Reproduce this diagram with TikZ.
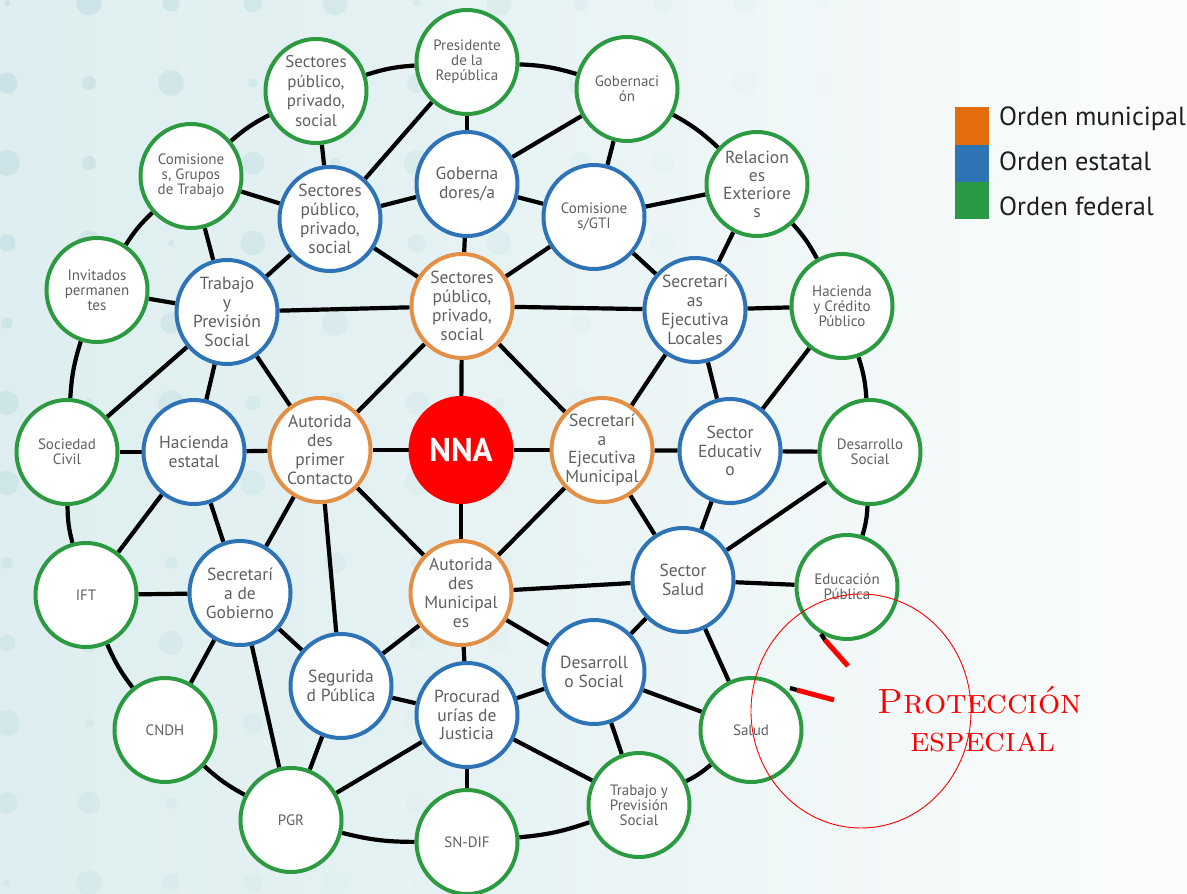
\documentclass[tikz,border=0pt]{standalone}
\usepackage{fontspec}
\newfontfamily\ptsans{PT Sans}
\usetikzlibrary{shapes.geometric}
\definecolor{cGreen}{HTML}{2C9A40}
\definecolor{cBlue}{HTML}{2E73B5}
\definecolor{cOrange}{HTML}{E38F45}
\definecolor{lgOrange}{HTML}{E46C0A}
\definecolor{lgBlue}{HTML}{2E75B5}
\definecolor{lgGreen}{HTML}{2B9A44}
\definecolor{txt}{HTML}{606060}
\definecolor{nnaRed}{HTML}{FF0000}
\definecolor{bgL}{HTML}{D4E9EB}
\definecolor{bgM}{HTML}{E6F2F3}
\definecolor{bgR}{HTML}{FAFCFC}
\definecolor{dotc}{HTML}{C2DFE2}
\pgfdeclarehorizontalshading{bgshade}{100bp}{color(0bp)=(bgL); color(45bp)=(bgM); color(72bp)=(bgR); color(100bp)=(white)}
\pgfdeclarelayer{back}
\pgfdeclarelayer{edges}
\pgfsetlayers{back,edges,main}
\tikzset{
  circ/.style={ellipse, line width=4pt, fill=white, minimum width=101pt, minimum height=104pt, inner sep=0pt},
  fed/.style={circ, draw=cGreen},
  est/.style={circ, draw=cBlue},
  mun/.style={circ, draw=cOrange},
  tbig/.style={align=center, text=txt, inner sep=0pt, font=\ptsans\fontsize{17.5}{18.8}\selectfont},
  tsml/.style={align=center, text=txt, inner sep=0pt, font=\ptsans\fontsize{15}{15}\selectfont},
  link/.style={line width=4.2pt, draw=black},
  ring/.style={link, bend left=7},
  redmark/.style={line width=5pt, draw=red},
  legtxt/.style={anchor=base west, inner sep=0pt, text=black!88, font=\ptsans\fontsize{26.3}{26.3}\selectfont},
}
\begin{document}
\begin{tikzpicture}[x=1pt,y=-1pt]
\useasboundingbox (0,0) rectangle (1187,894);
\begin{pgfonlayer}{back}
  \shade[shading=bgshade] (0,0) rectangle (1187,894);
  \foreach \i in {0,...,13}{
    \foreach \j in {0,...,11}{
      \pgfmathsetmacro\rr{3+10*abs(sin(\i*73+\j*131))}
      \pgfmathsetmacro\op{max(0,0.7-0.065*\i-0.03*\j)}
      \fill[dotc, fill opacity=\op] (7+82*\i,3+80*\j) circle[radius=\rr];
    }
  }
\end{pgfonlayer}

% federal (outer ring)
\node[fed] (g1) at (316,91) {};
\node[fed] (g2) at (467,62) {};
\node[fed] (g3) at (627,89) {};
\node[fed] (g4) at (757,184) {};
\node[fed] (g5) at (842,306) {};
\node[fed] (g6) at (870,452) {};
\node[fed] (g7) at (847,587) {};
\node[fed] (g8) at (751,730) {};
\node[fed] (g9) at (639,805) {};
\node[fed] (g10) at (467,842) {};
\node[fed] (g11) at (291,820) {};
\node[fed] (g12) at (165,730) {};
\node[fed] (g13) at (86,595) {};
\node[fed] (g14) at (67,452) {};
\node[fed] (g15) at (97,290) {};
\node[fed] (g16) at (191,176) {};
% estatal
\node[est] (b1) at (330,219) {};
\node[est] (b2) at (467,184) {};
\node[est] (b3) at (594,217) {};
\node[est] (b4) at (695,310) {};
\node[est] (b5) at (730,451) {};
\node[est] (b6) at (683,580) {};
\node[est] (b7) at (594,672) {};
\node[est] (b8) at (467,715) {};
\node[est] (b9) at (341,686) {};
\node[est] (b10) at (240,593) {};
\node[est] (b11) at (194,452) {};
\node[est] (b12) at (227,312) {};
% municipal
\node[mun] (o1) at (462,306) {};
\node[mun] (o2) at (602,450) {};
\node[mun] (o3) at (461,593) {};
\node[mun] (o4) at (320,450) {};
% centre
\node[circ, draw=nnaRed, fill=nnaRed] (nna) at (461,450) {};

% texts
\node[tbig, font=\ptsans\fontsize{17}{19.8}\selectfont] (g1t) at (g1) {Sectores\\público,\\privado,\\social};
\node[tsml] (g2t) at (g2) {Presidente\\de la\\República};
\node[tsml] (g3t) at (g3) {Gobernaci\\ón};
\node[tbig, font=\ptsans\fontsize{17.5}{18}\selectfont] (g4t) at (g4) {Relacion\\es\\Exteriore\\s};
\node[tsml] (g5t) at (g5) {Hacienda\\y Crédito\\Público};
\node[tsml] (g6t) at (g6) {Desarrollo\\Social};
\node[tsml] (g7t) at (g7) {Educación\\Pública};
\node[tsml] (g8t) at (g8) {Salud};
\node[tsml] (g9t) at (g9) {Trabajo y\\Previsión\\Social};
\node[tsml] (g10t) at (g10) {SN-DIF};
\node[tsml] (g11t) at (g11) {PGR};
\node[tsml] (g12t) at (g12) {CNDH};
\node[tsml] (g13t) at (g13) {IFT};
\node[tsml] (g14t) at (g14) {Sociedad\\Civil};
\node[tsml] (g15t) at (g15) {Invitados\\permanen\\tes};
\node[tsml] (g16t) at (g16) {Comisione\\s, Grupos\\de Trabajo};
\node[tbig] (b1t) at (b1) {Sectores\\público,\\privado,\\social};
\node[tbig] (b2t) at (b2) {Goberna\\dores/a};
\node[tsml] (b3t) at (b3) {Comisione\\s/GTI};
\node[tbig] (b4t) at (b4) {Secretarí\\as\\Ejecutiva\\Locales};
\node[tbig] (b5t) at (b5) {Sector\\Educativ\\o};
\node[tbig] (b6t) at (b6) {Sector\\Salud};
\node[tbig] (b7t) at (b7) {Desarroll\\o Social};
\node[tbig] (b8t) at (b8) {Procurad\\urías de\\Justicia};
\node[tbig] (b9t) at (b9) {Segurida\\d Pública};
\node[tbig] (b10t) at (b10) {Secretarí\\a de\\Gobierno};
\node[tbig] (b11t) at (b11) {Hacienda\\estatal};
\node[tbig] (b12t) at (b12) {Trabajo\\y\\Previsión\\Social};
\node[tbig] (o1t) at (o1) {Sectores\\público,\\privado,\\social};
\node[tbig] (o2t) at (o2) {Secretarí\\a\\Ejecutiva\\Municipal};
\node[tbig] (o3t) at (o3) {Autorida\\des\\Municipal\\es};
\node[tbig] (o4t) at (o4) {Autorida\\des\\primer\\Contacto};
\node[inner sep=0pt, text=white, font=\ptsans\bfseries\fontsize{33}{33}\selectfont] (nnat) at (nna) {NNA};

\begin{pgfonlayer}{edges}
  % outer ring
  \draw[ring] (g1) to (g2);
  \draw[ring] (g2) to (g3);
  \draw[ring] (g3) to (g4);
  \draw[ring] (g4) to (g5);
  \draw[ring] (g5) to (g6);
  \draw[ring] (g6) to (g7);
  \draw[ring] (g8) to (g9);
  \draw[ring] (g9) to (g10);
  \draw[ring] (g10) to (g11);
  \draw[ring] (g11) to (g12);
  \draw[ring] (g12) to (g13);
  \draw[ring] (g13) to (g14);
  \draw[ring] (g14) to (g15);
  \draw[ring] (g15) to (g16);
  \draw[ring] (g16) to (g1);
  % straight links
  \foreach \a/\b in {g1/b1, g2/b1, g2/b2, g3/b2, g16/b1, g16/b12, b1/b2, b1/b12, b1/o1,
    b2/o1, b2/b3, b3/o1, g15/b12, b12/o1, o1/b4, b12/g14, b12/b11, b12/o4, o1/o4,
    o1/nna, o1/o2, g3/b3, b3/g4, b3/b4, g4/b4, b4/g5, b4/o2, b4/b5, g5/b5,
    nna/o2, nna/o4, nna/o3, b11/o4, g14/b11, o2/b5, b5/g6, b11/g13, b11/b10,
    o4/b10, o4/b9, o4/o3, o2/o3, o3/b6, o3/b7, o3/b9, o3/b8, g13/b10, b10/g12,
    b10/g11, b10/b9, b9/g11, b9/b8, g11/b8, b8/g10, b8/b7, b8/g9, o2/b6, b5/b6,
    g6/b6, b6/g7, b6/b7, b6/g8, b7/g8, b7/g9}
    {\draw[link] (\a) -- (\b);}
\end{pgfonlayer}

% broken link Educación Pública -- Salud, with red marks
\coordinate (s1a) at (821,634);
\coordinate (s1b) at (825,640);
\coordinate (r1b) at (848,666);
\coordinate (s2a) at (790,688);
\coordinate (s2b) at (797,690);
\coordinate (r2b) at (834,700);
\draw[link] (s1a) -- (s1b);
\draw[redmark] (s1b) -- (r1b);
\draw[link] (s2a) -- (s2b);
\draw[redmark] (s2b) -- (r2b);

% red circle and label
\draw[red, line width=0.9pt] (861,711) ellipse [x radius=110, y radius=117];
\node[anchor=base, inner sep=0pt, text=red, font=\fontsize{35}{35}\selectfont] (pe1) at (980,713)
  {\textsc{Protección}};
\node[anchor=base, inner sep=0pt, text=red, font=\fontsize{35}{35}\selectfont] (pe2) at (983,751)
  {\textsc{especial}};

% legend
\fill[lgOrange] (955,107) coordinate (lo1) rectangle (989,145) coordinate (lo2);
\fill[lgBlue] (955,145) coordinate (lb1) rectangle (989,182) coordinate (lb2);
\fill[lgGreen] (955,182) coordinate (lf1) rectangle (989,219) coordinate (lf2);
\node[legtxt] (lt1) at (999,125) {Orden municipal};
\node[legtxt] (lt2) at (999,170) {Orden estatal};
\node[legtxt] (lt3) at (999,215) {Orden federal};
\end{tikzpicture}
\end{document}
